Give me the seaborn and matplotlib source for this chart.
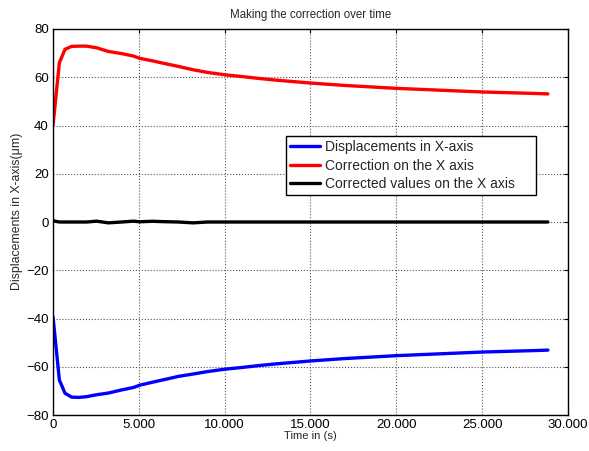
import numpy as np
import pandas as pd
import matplotlib
matplotlib.use("Agg")
import matplotlib.pyplot as plt
import seaborn as sns

time_s = [0, 370, 700, 1090, 1500, 1960, 2540, 3220, 4000, 4680, 5070, 5800, 6430,
          7300, 8170, 9000, 10020, 11000, 12000, 13000, 14000, 15000, 16000, 17000,
          18000, 19000, 20000, 21000, 22000, 23000, 24000, 25000, 26000, 27000, 28000, 28830]
correction = [40, 66, 71.6, 72.8, 72.9, 72.9, 72.2, 70.7, 69.8, 68.8, 67.8, 66.8, 65.8,
              64.5, 63.1, 62.0, 61.0, 60.3, 59.5, 58.8, 58.2, 57.6, 57.1, 56.6,
              56.2, 55.8, 55.4, 55.1, 54.8, 54.5, 54.2, 53.9, 53.7, 53.5, 53.3, 53.1]
displacement = [-39.3, -65.5, -71.0, -72.6, -72.7, -72.4, -71.6, -70.9, -69.6, -68.6, -67.6, -66.4, -65.4,
                -64.0, -63.0, -62.0, -61.0, -60.3, -59.5, -58.8, -58.2, -57.6, -57.1, -56.6,
                -56.2, -55.8, -55.4, -55.1, -54.8, -54.5, -54.2, -53.9, -53.7, -53.5, -53.3, -53.1]
corrected = [0.5, 0.0, 0.0, 0.0, 0.0, 0.0, 0.35, -0.35, 0.0, 0.35, 0.1, 0.3, 0.15,
             0.0, -0.35, 0.0, 0.0, 0.0, 0.0, 0.0, 0.0, 0.0, 0.0, 0.0,
             0.0, 0.0, 0.0, 0.0, 0.0, 0.0, 0.0, 0.0, 0.0, 0.0, 0.0, 0.0]
series_names = ["Displacements in X-axis", "Correction on the X axis", "Corrected values on the X axis"]
series_colors = ["#0000ff", "#ff0000", "#000000"]
x_ticks = [0, 5000, 10000, 15000, 20000, 25000, 30000]
x_tick_labels = ["0", "5.000", "10.000", "15.000", "20.000", "25.000", "30.000"]
y_ticks = [-80, -60, -40, -20, 0, 20, 40, 60, 80]

df = pd.concat([
    pd.DataFrame({"t": time_s, "v": displacement, "s": series_names[0]}),
    pd.DataFrame({"t": time_s, "v": correction, "s": series_names[1]}),
    pd.DataFrame({"t": time_s, "v": corrected, "s": series_names[2]}),
])

sns.set_style("white")
plt.rcParams['font.family'] = ['Liberation Sans', 'DejaVu Sans']

fig = plt.figure(figsize=(5.89, 4.51), dpi=100)
ax = fig.add_axes([0.09, 0.0798, 0.8743, 0.8559])
sns.lineplot(data=df, x="t", y="v", hue="s", palette=dict(zip(series_names, series_colors)),
             hue_order=series_names, linewidth=2.4, ax=ax, legend=True, sort=False)

ax.set_xlim(0, 30000)
ax.set_ylim(-80, 80)
ax.set_xticks(x_ticks)
ax.set_xticklabels(x_tick_labels)
ax.set_yticks(y_ticks)
ax.tick_params(axis='both', direction='in', labelsize=9.5, length=3, top=True, right=True,
               colors='black', pad=3)
ax.grid(True, color='#555555', linestyle=':', linewidth=0.8)
for sp in ax.spines.values():
    sp.set_color('black')
    sp.set_linewidth(1.0)
ax.set_title("Making the correction over time", fontsize=8.3, pad=8)
ax.set_xlabel("Time in (s)", fontsize=8.1, labelpad=0)
ax.set_ylabel("Displacements in X-axis(\u03bcm)", fontsize=8.8)
ax.yaxis.set_label_coords(-0.058, 0.528)

leg = ax.legend(loc='upper left', bbox_to_anchor=(0.452, 0.5736, 0.4854, 0.15), mode='expand',
                fontsize=10, frameon=True, fancybox=False, edgecolor='black', framealpha=1,
                handlelength=2.2, borderpad=0.3, labelspacing=0.34, handletextpad=0.35,
                borderaxespad=0)
leg.get_frame().set_linewidth(1.0)

fig.savefig("out.png", dpi=100)
